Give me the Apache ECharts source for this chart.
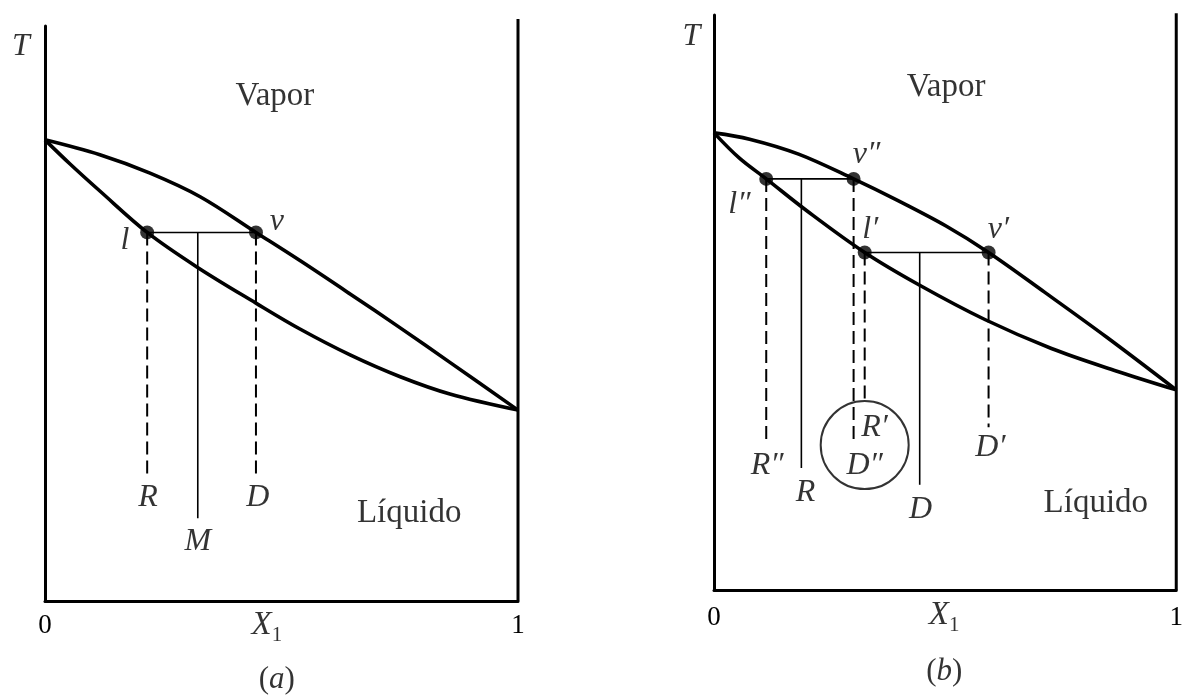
<!DOCTYPE html>
<html>
<head>
<meta charset="utf-8">
<script src="https://cdn.jsdelivr.net/npm/echarts@6/dist/echarts.min.js"></script>
<style>
  html, body { margin: 0; padding: 0; background: #fff; }
  #chart { width: 1186px; height: 697px; }
</style>
</head>
<body>
<div id="chart"></div>
<script>
// ---- data: composition X1 (0..1) against temperature T (arbitrary units, 0..100) ----
const xTicks = [0, 1];

// Diagram (a): dew curve (vapour side) and bubble curve (liquid side), [X1, T]
const dewA = [[0, 80.2], [0.116, 77.6], [0.222, 74.4], [0.328, 70.3], [0.446, 64.1],
              [0.539, 59.2], [0.645, 53.4], [0.751, 47.5], [0.856, 41.5], [1, 33.2]];
const bubbleA = [[0, 80.2], [0.053, 76.0], [0.116, 71.3], [0.216, 64.1], [0.321, 58.1],
                 [0.446, 51.8], [0.539, 47.3], [0.645, 42.8], [0.751, 39.0], [0.856, 36.0], [1, 33.2]];
// tie line l–v and the compositions read from it
const tieTA = [64.1];
const compA = { R: 0.216, M: 0.323, D: 0.446 };

// Diagram (b): two successive equilibrium stages
const dewB = [[0, 79.5], [0.077, 78.4], [0.183, 75.8], [0.302, 71.5], [0.396, 67.8],
              [0.502, 63.3], [0.594, 58.7], [0.715, 51.8], [0.849, 44.0], [1, 34.8]];
const bubbleB = [[0, 79.5], [0.055, 75.1], [0.113, 71.5], [0.2, 66.0], [0.326, 58.7],
                 [0.445, 53.0], [0.587, 47.0], [0.730, 42.0], [0.870, 38.1], [1, 34.8]];
const tieTB = [71.5, 58.7];                       // l''–v'' and l'–v'
const compB = { R2: 0.113, R: 0.189, D2: 0.302, R1: 0.326, D: 0.445, D1: 0.594 };

// ---- styling helpers ----
const SERIF = 'Liberation Serif';
const INK = '#000';

function curve(idx, data) {
  return { type: 'line', xAxisIndex: idx, yAxisIndex: idx, data, smooth: 0.35,
           symbol: 'none', silent: true, clip: false,
           lineStyle: { color: INK, width: 3.6 } };
}
function seg(idx, p0, p1, kind) {
  const dashed = kind === 'dash';
  return { type: 'line', xAxisIndex: idx, yAxisIndex: idx, data: [p0, p1],
           symbol: 'none', silent: true, clip: false,
           lineStyle: { color: INK, width: kind === 'frame' ? 3 : (dashed ? 2 : 1.6),
                        type: dashed ? [13, 6] : 'solid' } };
}
function dots(idx, pts) {
  return { type: 'scatter', xAxisIndex: idx, yAxisIndex: idx, data: pts,
           symbol: 'circle', symbolSize: 14, silent: true, clip: false,
           itemStyle: { color: INK } };
}
const rich = {
  i:  { fontFamily: SERIF, fontStyle: 'italic', fontSize: 32, color: INK },
  r:  { fontFamily: SERIF, fontSize: 33, color: INK },
  p:  { fontFamily: SERIF, fontSize: 31, color: INK },
  pi: { fontFamily: SERIF, fontStyle: 'italic', fontSize: 31, color: INK },
  x:  { fontFamily: SERIF, fontStyle: 'italic', fontSize: 33, color: INK, verticalAlign: 'top', lineHeight: 34 },
  s:  { fontFamily: SERIF, fontSize: 21, color: INK, verticalAlign: 'top', lineHeight: 34, padding: [16, 0, 0, 0] }
};
function notes(idx, items) {
  return { type: 'scatter', xAxisIndex: idx, yAxisIndex: idx, silent: true, clip: false,
           symbolSize: 1, itemStyle: { color: 'transparent' },
           data: items.map(([text, x, t]) => ({ value: [x, t], text })),
           label: { show: true, position: 'inside', formatter: p => p.data.text, rich } };
}
function axes(gridIdx) {
  return {
    x: { type: 'value', gridIndex: gridIdx, min: 0, max: 1, interval: 1,
         axisLine: { show: true, onZero: false, lineStyle: { color: INK, width: 3 } },
         axisTick: { show: false }, splitLine: { show: false },
         axisLabel: { margin: gridIdx ? 14 : 11, fontFamily: SERIF, fontSize: 27, color: INK,
                      formatter: v => (xTicks.includes(v) ? String(v) : '') } },
    y: { type: 'value', gridIndex: gridIdx, min: 0, max: 100,
         axisLine: { show: true, lineStyle: { color: INK, width: 3 } },
         axisTick: { show: false }, splitLine: { show: false }, axisLabel: { show: false } }
  };
}
const A = axes(0), B = axes(1);

const series = [
  // ----- diagram (a) -----
  curve(0, dewA),
  curve(0, bubbleA),
  seg(0, [1, 0], [1, 101.2], 'frame'),
  seg(0, [compA.R, tieTA[0]], [compA.D, tieTA[0]], 'thin'),
  seg(0, [compA.R, tieTA[0]], [compA.R, 21.6], 'dash'),
  seg(0, [compA.D, tieTA[0]], [compA.D, 21.6], 'dash'),
  seg(0, [compA.M, tieTA[0]], [compA.M, 14.4], 'thin'),
  dots(0, [[compA.R, tieTA[0]], [compA.D, tieTA[0]]]),
  notes(0, [
    ['{i|T}', -0.051, 96.5],
    ['{r|Vapor}', 0.486, 87.7],
    ['{i|l}', 0.169, 62.6],
    ['{i|v}', 0.490, 66.0],
    ['{i|R}', 0.218, 17.9],
    ['{i|M}', 0.323, 10.3],
    ['{i|D}', 0.450, 17.9],
    ['{r|Líquido}', 0.770, 15.3],
    ['{x|X}{s|1}', 0.469, -4.3],
    ['{p|(}{pi|a}{p|)}', 0.490, -13.7]
  ]),

  // ----- diagram (b) -----
  curve(1, dewB),
  curve(1, bubbleB),
  seg(1, [1, 0], [1, 100.3], 'frame'),
  seg(1, [compB.R2, tieTB[0]], [compB.D2, tieTB[0]], 'thin'),
  seg(1, [compB.R1, tieTB[1]], [compB.D1, tieTB[1]], 'thin'),
  seg(1, [compB.R2, tieTB[0]], [compB.R2, 25.2], 'dash'),
  seg(1, [compB.R, tieTB[0]], [compB.R, 21.2], 'thin'),
  seg(1, [compB.D2, tieTB[0]], [compB.D2, 25.6], 'dash'),
  seg(1, [compB.R1, tieTB[1]], [compB.R1, 32.9], 'dash'),
  seg(1, [compB.D, tieTB[1]], [compB.D, 18.3], 'thin'),
  seg(1, [compB.D1, tieTB[1]], [compB.D1, 28.3], 'dash'),
  dots(1, [[compB.R2, tieTB[0]], [compB.D2, tieTB[0]], [compB.R1, tieTB[1]], [compB.D1, tieTB[1]]]),
  // ring marking R' ≈ D''
  { type: 'scatter', xAxisIndex: 1, yAxisIndex: 1, silent: true, clip: false,
    data: [[(compB.R1 + compB.D2) / 2 + 0.012, 25.2]], symbol: 'circle', symbolSize: 88,
    itemStyle: { color: 'transparent', borderColor: INK, borderWidth: 2 } },
  notes(1, [
    ['{i|T}', -0.049, 96.2],
    ['{r|Vapor}', 0.502, 87.5],
    ['{i|v\u2033}', 0.330, 75.7],
    ['{i|l\u2033}', 0.055, 67.0],
    ['{i|l\u2032}', 0.338, 62.6],
    ['{i|v\u2032}', 0.615, 62.6],
    ['{i|R\u2033}', 0.115, 21.7],
    ['{i|R}', 0.198, 16.9],
    ['{i|R\u2032}', 0.347, 28.2],
    ['{i|D\u2033}', 0.326, 21.7],
    ['{i|D\u2032}', 0.598, 24.7],
    ['{i|D}', 0.447, 13.9],
    ['{r|Líquido}', 0.826, 15.1],
    ['{x|X}{s|1}', 0.498, -4.5],
    ['{p|(}{pi|b}{p|)}', 0.498, -14.3]
  ])
];

const chart = echarts.init(document.getElementById('chart'), null, { renderer: 'canvas' });
chart.setOption({
  backgroundColor: '#fff',
  animation: false,
  grid: [
    { left: 45, width: 473, top: 26, height: 575 },
    { left: 714, width: 470, top: 15, height: 575 }
  ],
  xAxis: [A.x, B.x],
  yAxis: [A.y, B.y],
  series
});
</script>
</body>
</html>
